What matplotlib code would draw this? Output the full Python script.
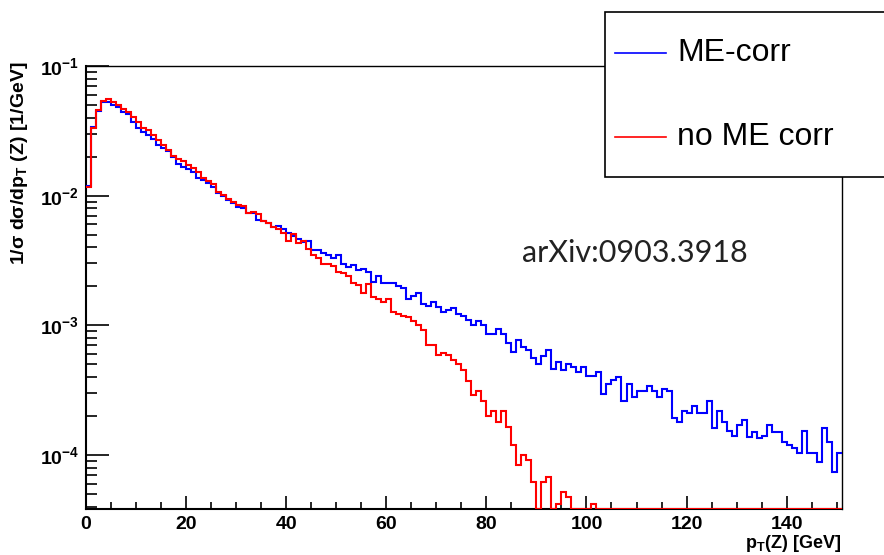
import numpy as np
import matplotlib
matplotlib.use("Agg")
import matplotlib.pyplot as plt
from matplotlib import font_manager as fm
from matplotlib.ticker import FixedLocator, NullFormatter, FuncFormatter
from matplotlib.patches import Rectangle
from matplotlib.lines import Line2D

# ---------------- data (1 GeV bins, 0..151 GeV) ----------------
bin_edges_gev = list(range(0, 152))

me_corr = [
    0.0118, 0.034, 0.045, 0.0524, 0.0524, 0.050, 0.0485, 0.0444, 0.0424, 0.0371,
    0.0334, 0.0311, 0.0293, 0.0272, 0.0245, 0.0234, 0.0221, 0.0199, 0.0177, 0.0167,
    0.0160, 0.0151, 0.0137, 0.0133, 0.0126, 0.0117, 0.0104, 0.0099, 0.0092, 0.0087,
    0.0082, 0.0080, 0.0074, 0.0073, 0.0065, 0.0064, 0.0061, 0.0057, 0.0058, 0.0055,
    0.00516, 0.00487, 0.00467, 0.0044, 0.00448, 0.00384, 0.00384, 0.00361, 0.00347, 0.00333,
    0.00347, 0.00296, 0.00282, 0.0029, 0.00266, 0.0027, 0.00258, 0.00216, 0.00239, 0.00211,
    0.00211, 0.00211, 0.0020, 0.00193, 0.0016, 0.00167, 0.00178, 0.00147, 0.00142, 0.00151,
    0.00139, 0.00127, 0.00131, 0.00135, 0.00123, 0.00118, 0.00109, 0.0010, 0.00108, 0.0010,
    0.00086, 0.00086, 0.00094, 0.00086, 0.00073, 0.00062, 0.00077, 0.00068, 0.00065, 0.00056,
    0.0005, 0.00058, 0.00065, 0.00046, 0.00052, 0.00045, 0.0005, 0.00048, 0.00044, 0.00048,
    0.00041, 0.00041, 0.00044, 0.000296, 0.00035, 0.00038, 0.00040, 0.00026, 0.00035, 0.00028,
    0.00031, 0.00031, 0.00034, 0.00031, 0.00028, 0.00032, 0.00031, 0.000194, 0.00018, 0.00022,
    0.00021, 0.00024, 0.00021, 0.00021, 0.00026, 0.00016, 0.00022, 0.00018, 0.000154, 0.00014,
    0.00017, 0.000186, 0.000137, 0.00015, 0.000134, 0.00014, 0.00017, 0.00015, 0.00015, 0.000126,
    0.00012, 0.000114, 0.000104, 0.000154, 0.000104, 0.000104, 0.000088, 0.00016, 0.000126, 0.000074,
    0.000104,
]

no_me_corr = [
    0.0117, 0.033, 0.0457, 0.054, 0.0553, 0.0524, 0.050, 0.0463, 0.0439, 0.0406,
    0.0371, 0.0330, 0.0321, 0.0293, 0.0268, 0.0245, 0.0224, 0.0203, 0.0191, 0.0185,
    0.0172, 0.0162, 0.0151, 0.0136, 0.0129, 0.0123, 0.0106, 0.0101, 0.0095, 0.0090,
    0.00845, 0.0083, 0.0073, 0.0075, 0.0072, 0.0064, 0.0061, 0.0057, 0.0055, 0.00516,
    0.00448, 0.0051, 0.00432, 0.00448, 0.0039, 0.00347, 0.00333, 0.00299, 0.00299, 0.00286,
    0.00258, 0.00253, 0.00239, 0.00212, 0.00204, 0.00178, 0.00207, 0.00164, 0.0016, 0.00151,
    0.0016, 0.00127, 0.00123, 0.00119, 0.00116, 0.00107, 0.0010, 0.00092, 0.0007, 0.0007,
    0.00059, 0.00061, 0.00059, 0.00054, 0.0005, 0.00045, 0.00037, 0.00029, 0.00031, 0.00026,
    0.0002, 0.00022, 0.00018, 0.00022, 0.000163, 0.00012, 0.000084, 0.0001, 0.000091, 0.000062,
    0.0, 0.000062, 0.000068, 0.0, 0.000042, 0.000052, 0.000047, 0.0, 0.0, 0.0,
    0.0, 0.000042, 0.0, 0.0, 0.0, 0.0, 0.0, 0.0, 0.0, 0.0,
    0.0, 0.0, 0.0, 0.0, 0.0, 0.0, 0.0, 0.0, 0.0, 0.0,
    0.0, 0.0, 0.0, 0.0, 0.0, 0.0, 0.0, 0.0, 0.0, 0.0,
    0.0, 0.0, 0.0, 0.0, 0.0, 0.0, 0.0, 0.0, 0.0, 0.0,
    0.0, 0.0, 0.0, 0.0, 0.0, 0.0, 0.0, 0.0, 0.0, 0.0,
    0.0,
]

series_labels = ["ME-corr", "no ME corr"]
x_tick_values = [0, 20, 40, 60, 80, 100, 120, 140]
y_decades = [1e-4, 1e-3, 1e-2, 1e-1]
annotation = "arXiv:0903.3918"

# ---------------- fonts ----------------
names = {f.name for f in fm.fontManager.ttflist}
narrow = "Liberation Sans Narrow" if "Liberation Sans Narrow" in names else "Liberation Sans"
light_family = "Lato" if "Lato" in names else "DejaVu Sans"
plt.rcParams["mathtext.fontset"] = "custom"
plt.rcParams["mathtext.rm"] = narrow
plt.rcParams["mathtext.bf"] = narrow + ":bold"
plt.rcParams["mathtext.it"] = narrow + ":italic"
plt.rcParams["font.family"] = [narrow, "DejaVu Sans"]

YMIN, YMAX = 3.83e-5, 0.1
XMIN, XMAX = 0, 151

fig = plt.figure(figsize=(8.84, 5.55), dpi=100)
fig.patch.set_facecolor("white")
ax = fig.add_axes([86 / 884, 46 / 555, (841.7 - 86) / 884, (509 - 66) / 555])

edges = np.array(bin_edges_gev, dtype=float)
blue = np.clip(np.array(me_corr), YMIN, None)
red = np.clip(np.array(no_me_corr), YMIN, None)

ax.stairs(blue, edges, baseline=None, color="#0000ff", lw=1.5, zorder=3)
ax.stairs(red, edges, baseline=None, color="#ff0000", lw=1.5, zorder=4)

ax.set_yscale("log")
ax.set_xlim(XMIN, XMAX)
ax.set_ylim(YMIN, YMAX)

# ticks
ax.xaxis.set_major_locator(FixedLocator(x_tick_values))
ax.xaxis.set_minor_locator(FixedLocator([v for v in range(0, 151, 5) if v % 20]))
ax.yaxis.set_major_locator(FixedLocator(y_decades))
minor_y = [m * d for d in [1e-5, 1e-4, 1e-3, 1e-2] for m in range(2, 10)]
ax.yaxis.set_minor_locator(FixedLocator([v for v in minor_y if YMIN <= v <= YMAX]))
ax.yaxis.set_minor_formatter(NullFormatter())

def yfmt(v, pos):
    e = int(round(np.log10(v)))
    return r"$\mathbf{10^{%d}}$" % e

ax.yaxis.set_major_formatter(FuncFormatter(yfmt))
ax.xaxis.set_major_formatter(FuncFormatter(lambda v, p: "%d" % v))

ax.tick_params(axis="both", which="both", direction="in", top=False, right=False, color="black")
ax.tick_params(axis="y", which="major", length=16.5, width=1.2, pad=5, labelsize=14)
ax.tick_params(axis="y", which="minor", length=8, width=1.2)
ax.tick_params(axis="x", which="major", length=9.5, width=1.2, pad=5, labelsize=14)
ax.tick_params(axis="x", which="minor", length=5, width=1.2)
for lab in ax.get_xticklabels():
    lab.set_fontweight("bold")

for side in ["left", "bottom"]:
    ax.spines[side].set_linewidth(1.5)
for side in ["top", "right"]:
    ax.spines[side].set_linewidth(1.0)

# axis titles
fig.text(20 / 884, 1 - 62 / 555, r"1/$\mathbf{\sigma}$ d$\mathbf{\sigma}$/dp$_{\mathbf{T}}$ (Z) [1/GeV]",
         rotation=90, ha="center", va="top", fontsize=14, fontweight="bold",
         family=[narrow, "DejaVu Sans"])
fig.text(841 / 884, 1 - 544 / 555, r"p$_{\mathbf{T}}$(Z) [GeV]", ha="right", va="center",
         fontsize=13, fontweight="bold")

# annotation
fig.text(522 / 884, 1 - 262 / 555, annotation, ha="left", va="baseline",
         fontsize=22, color="#222222", family=light_family, fontweight="normal")

# legend box (extends past the right edge, like the reference)
leg = Rectangle((605 / 884, 1 - 177 / 555), 300 / 884, 165 / 555, transform=fig.transFigure,
                facecolor="white", edgecolor="black", lw=1.2, zorder=10, clip_on=False)
fig.add_artist(leg)
for yy, col, lab in [(53, "#0000ff", series_labels[0]), (137, "#ff0000", series_labels[1])]:
    fig.add_artist(Line2D([615 / 884, 666 / 884], [1 - yy / 555, 1 - yy / 555],
                          transform=fig.transFigure, color=col, lw=1.2, zorder=11))
    fig.text(677 / 884, 1 - yy / 555, lab, ha="left", va="center", fontsize=23,
             zorder=12, family=narrow)

fig.savefig("out.png", dpi=100, facecolor="white")
